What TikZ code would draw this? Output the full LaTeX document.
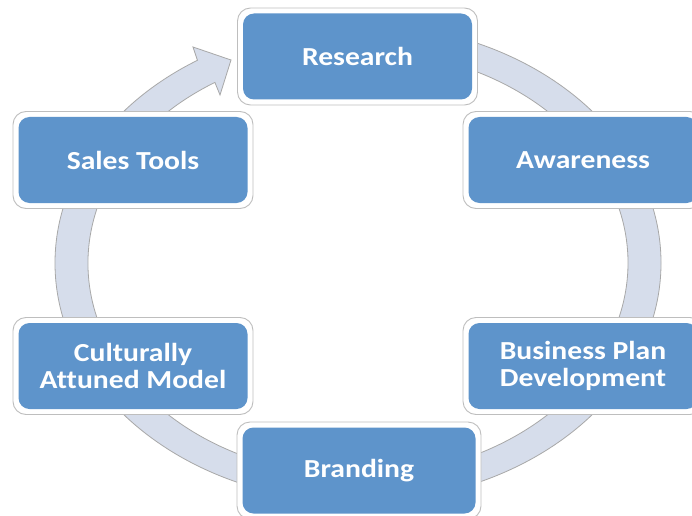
\documentclass[tikz,border=0pt]{standalone}
\usepackage{fontspec}
\newfontfamily\boxfont[FakeStretch=1.14,Ligatures=NoCommon]{Carlito}
\definecolor{boxblue}{RGB}{94,148,203}
\definecolor{ringfill}{RGB}{214,221,235}
\definecolor{ringline}{RGB}{168,168,168}
\definecolor{frameline}{RGB}{190,190,190}
\tikzset{
  boxframe/.style={draw=frameline, line width=0.9pt, fill=white, rounded corners=13pt,
    minimum width=240pt, minimum height=97pt, inner sep=0pt},
  boxfill/.style={fill=boxblue, rounded corners=11pt, minimum width=229pt, minimum height=86pt,
    inner sep=0pt, text=white, align=center,
    font=\boxfont\bfseries\fontsize{26}{27}\selectfont},
  ringshape/.style={fill=ringfill, draw=ringline, line width=0.8pt, line join=miter}
}
\begin{document}
\begin{tikzpicture}[x=1pt,y=1pt]
\useasboundingbox (0,0) rectangle (692,515);
\clip (0,0) rectangle (692,515);
\fill[white] (0,0) rectangle (692,515);
% circular arrow ring
\coordinate (ringc) at (358,252);
\coordinate (tipU) at (193,468);
\coordinate (tip) at (231,455);
\coordinate (tipL) at (220,420);
\draw[ringshape] (358,491)
  arc[start angle=90, end angle=-238, x radius=303, y radius=239]
  -- (tipU) -- (tip) -- (tipL)
  -- (214.9,432.6)
  arc[start angle=-238, end angle=90, x radius=270, y radius=213]
  -- cycle;
% boxes
\node[boxframe] (research) at (357.5,458.5) {};
\node[boxfill] (researchT) at (research) {Research};
\node[boxframe] (sales) at (133,355) {};
\node[boxfill] (salesT) at (sales) {Sales Tools};
\node[boxframe] (aware) at (583,355) {};
\node[boxfill] (awareT) at (aware) {Awareness};
\node[boxframe] (cult) at (133,149) {};
\node[boxfill] (cultT) at (cult) {Culturally\\Attuned Model};
\node[boxframe] (biz) at (583,149) {};
\node[boxfill] (bizT) at (biz) {Business Plan\\Development};
\node[boxframe, minimum width=244pt] (brand) at (359,44.5) {};
\node[boxfill, minimum width=233pt] (brandT) at (brand) {Branding};
\end{tikzpicture}
\end{document}
